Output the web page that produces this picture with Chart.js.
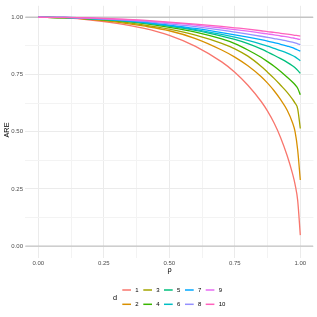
<!DOCTYPE html>
<html><head><meta charset="utf-8">
<script src="https://cdn.jsdelivr.net/npm/chart.js@4/dist/chart.umd.min.js"></script>
<style>html,body{margin:0;padding:0;background:#fff;}canvas{display:block;}</style>
</head><body>
<canvas id="c" width="317" height="317"></canvas>
<script>
const rho = [0, 0.1, 0.2, 0.3, 0.4, 0.5, 0.6, 0.7, 0.75, 0.8, 0.85, 0.875, 0.9, 0.925, 0.95, 0.97, 0.98, 0.99, 1];
const are1  = [1, 0.997, 0.988, 0.973, 0.952, 0.921, 0.873, 0.805, 0.760, 0.703, 0.633, 0.590, 0.538, 0.474, 0.395, 0.318, 0.270, 0.200, 0.048];
const are2  = [1, 0.998, 0.991, 0.979, 0.962, 0.941, 0.907, 0.857, 0.826, 0.788, 0.741, 0.712, 0.679, 0.640, 0.594, 0.540, 0.500, 0.420, 0.289];
const are3  = [1, 0.998, 0.992, 0.982, 0.967, 0.948, 0.922, 0.886, 0.862, 0.830, 0.786, 0.760, 0.733, 0.703, 0.672, 0.642, 0.625, 0.600, 0.514];
const are4  = [1, 0.998, 0.993, 0.985, 0.973, 0.956, 0.935, 0.905, 0.885, 0.857, 0.825, 0.806, 0.786, 0.763, 0.738, 0.717, 0.705, 0.690, 0.661];
const are5  = [1, 0.998, 0.993, 0.986, 0.975, 0.961, 0.943, 0.918, 0.903, 0.885, 0.862, 0.848, 0.834, 0.819, 0.803, 0.788, 0.779, 0.768, 0.755];
const are6  = [1, 0.999, 0.994, 0.987, 0.977, 0.963, 0.946, 0.925, 0.913, 0.899, 0.883, 0.874, 0.864, 0.854, 0.843, 0.833, 0.827, 0.819, 0.810];
const are7  = [1, 0.999, 0.995, 0.988, 0.979, 0.966, 0.951, 0.933, 0.923, 0.913, 0.902, 0.896, 0.889, 0.882, 0.874, 0.867, 0.862, 0.857, 0.852];
const are8  = [1, 0.999, 0.995, 0.990, 0.982, 0.971, 0.959, 0.944, 0.935, 0.926, 0.917, 0.912, 0.907, 0.902, 0.896, 0.891, 0.888, 0.884, 0.880];
const are9  = [1, 0.999, 0.996, 0.991, 0.985, 0.976, 0.966, 0.953, 0.946, 0.939, 0.931, 0.927, 0.923, 0.918, 0.914, 0.910, 0.908, 0.905, 0.903];
const are10 = [1, 0.999, 0.997, 0.993, 0.987, 0.979, 0.970, 0.960, 0.954, 0.948, 0.941, 0.937, 0.934, 0.930, 0.926, 0.923, 0.921, 0.920, 0.918];
const dLabels = ["1","2","3","4","5","6","7","8","9","10"];
const colors = ["#F8766D","#D89000","#A3A500","#39B600","#00BF7D","#00BFC4","#00A9FF","#9590FF","#E76BF3","#FF62BC"];
const xTicks = [0, 0.25, 0.5, 0.75, 1];
const yTicks = [0, 0.25, 0.5, 0.75, 1];
const refLines = [0, 1];

const series = [are1, are2, are3, are4, are5, are6, are7, are8, are9, are10];
const FONT = "'Liberation Sans', Arial, sans-serif";

const datasets = series.map((s, i) => ({
  label: dLabels[i],
  data: rho.map((r, j) => ({x: r, y: s[j]})),
  borderColor: colors[i],
  borderWidth: 1.3,
  pointRadius: 0,
  fill: false,
  cubicInterpolationMode: 'monotone',
  order: 10 - i
}));
refLines.forEach(v => datasets.push({
  label: 'ref' + v,
  data: [{x: -0.05, y: v}, {x: 1.05, y: v}],
  borderColor: '#C4C4C4',
  borderWidth: 1.3,
  pointRadius: 0,
  fill: false,
  order: 100
}));

function minorTicks(major) {
  const out = [];
  for (let i = 0; i < major.length; i++) {
    out.push(major[i]);
    if (i < major.length - 1) out.push((major[i] + major[i+1]) / 2);
  }
  return out;
}
function isMajor(v) { return Math.abs(v * 4 - Math.round(v * 4)) < 1e-6; }

const overlay = {
  id: 'overlay',
  afterDraw(chart) {
    const ctx = chart.ctx;
    ctx.save();
    ctx.fillStyle = '#000';
    ctx.font = '7.3px ' + FONT;
    ctx.textAlign = 'center';
    ctx.textBaseline = 'middle';
    ctx.fillText('ρ', 169.5, 270);
    ctx.save();
    ctx.translate(6.5, 130);
    ctx.rotate(-Math.PI / 2);
    ctx.fillText('ARE', 0, 0);
    ctx.restore();
    ctx.fillText('d', 115, 297.5);
    const colX = [122.3, 143.3, 164, 185, 205.7];
    const rowY = [290, 304.3];
    ctx.font = '6px ' + FONT;
    ctx.textAlign = 'left';
    for (let i = 0; i < dLabels.length; i++) {
      const c = Math.floor(i / 2), r = i % 2;
      ctx.strokeStyle = colors[i];
      ctx.lineWidth = 1.5;
      ctx.beginPath();
      ctx.moveTo(colX[c], rowY[r]);
      ctx.lineTo(colX[c] + 8.7, rowY[r]);
      ctx.stroke();
      ctx.fillStyle = '#000';
      ctx.fillText(dLabels[i], colX[c] + 13, rowY[r] + 0.3);
    }
    ctx.restore();
  }
};

new Chart(document.getElementById('c'), {
  type: 'line',
  data: {datasets},
  options: {
    responsive: false,
    animation: false,
    devicePixelRatio: 1,
    layout: {padding: {top: 2.4, right: 3.6, left: 0, bottom: 0}},
    plugins: {legend: {display: false}, tooltip: {enabled: false}},
    scales: {
      x: {
        type: 'linear', min: -0.05, max: 1.05,
        afterBuildTicks: s => { s.ticks = minorTicks(xTicks).map(v => ({value: v})); },
        afterFit: s => { s.height = 59.4; },
        border: {display: false},
        grid: {
          drawTicks: false,
          color: c => (c.tick && isMajor(c.tick.value)) ? '#EBEBEB' : '#F3F3F3',
          lineWidth: 1
        },
        ticks: {
          padding: 2.3,
          autoSkip: false,
          maxRotation: 0,
          font: {family: FONT, size: 6},
          color: '#4D4D4D',
          callback: v => isMajor(v) ? v.toFixed(2) : ''
        }
      },
      y: {
        type: 'linear', min: -0.05, max: 1.05,
        afterBuildTicks: s => { s.ticks = minorTicks(yTicks).map(v => ({value: v})); },
        afterFit: s => { s.width = 25.2; },
        border: {display: false},
        grid: {
          drawTicks: false,
          color: c => (c.tick && isMajor(c.tick.value)) ? '#EBEBEB' : '#F3F3F3',
          lineWidth: 1
        },
        ticks: {
          padding: 2.2,
          autoSkip: false,
          font: {family: FONT, size: 6},
          color: '#4D4D4D',
          callback: v => isMajor(v) ? v.toFixed(2) : ''
        }
      }
    }
  },
  plugins: [overlay]
});
</script>
</body></html>
